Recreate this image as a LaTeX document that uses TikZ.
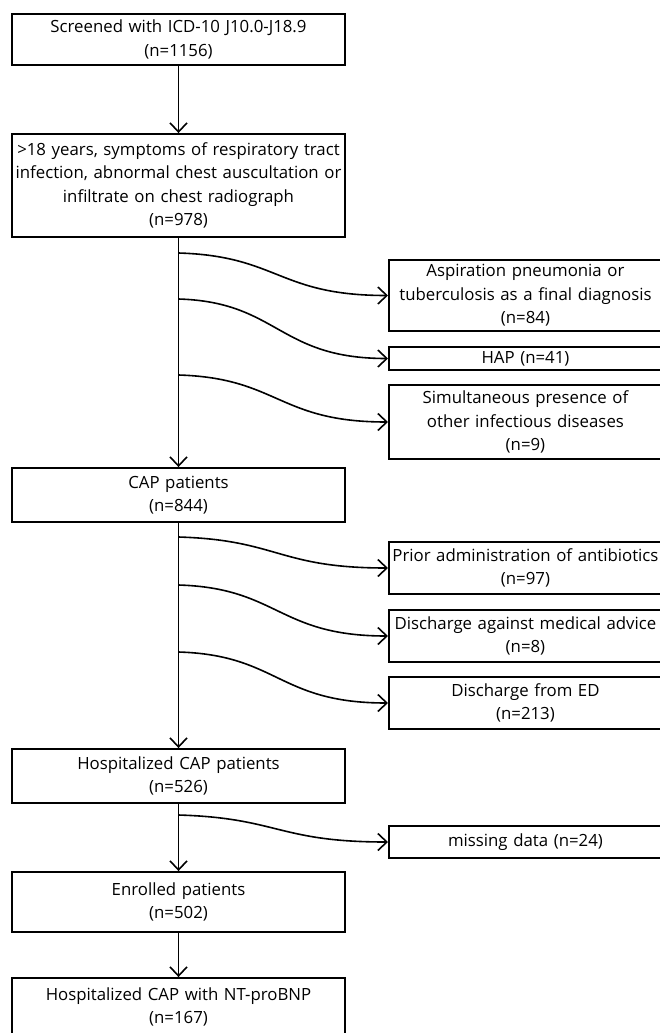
\documentclass[tikz,border=0pt]{standalone}
\usepackage{fontspec}
\setmainfont{Open Sans}
\usetikzlibrary{arrows.meta}

\tikzset{
  box/.style={draw, line width=1.9pt, inner sep=0pt, align=center, text width=#1, minimum width=#1},
  lbox/.style={box=333pt},
  rbox/.style={box=273pt, anchor=west},
  arr/.style={line width=1.6pt, -{Straight Barb[length=9pt,width=17pt,line width=1.6pt]}},
}

\begin{document}
\begin{tikzpicture}[x=1pt,y=-1pt, font=\fontsize{16.8}{23.5}\selectfont]
      \useasboundingbox (0,0) rectangle (660,1033);

      \node[lbox, minimum height=51pt] (scr) at (178.5,39.5) {Screened with ICD-10 J10.0-J18.9\\(n=1156)};
      \node[lbox, minimum height=103pt] (crit) at (178.5,185.5) {\mbox{>18 years, symptoms of respiratory tract}\\\mbox{infection, abnormal chest auscultation or}\\infiltrate on chest radiograph\\(n=978)};
      \node[lbox, minimum height=54pt] (cap) at (178.5,495) {CAP patients\\(n=844)};
      \node[lbox, minimum height=54pt] (hosp) at (178.5,776) {Hospitalized CAP patients\\(n=526)};
      \node[lbox, minimum height=60pt] (enr) at (178.5,902) {Enrolled patients\\(n=502)};
      \node[lbox, minimum height=58pt] (nt) at (178.5,1007) {Hospitalized CAP with NT-proBNP\\(n=167)};

      \node[rbox, minimum height=71pt] (asp) at (388,295.5) {Aspiration pneumonia or\\tuberculosis as a final diagnosis\\(n=84)};
      \node[rbox, minimum height=23pt] (hap) at (388,358.5) {HAP (n=41)};
      \node[rbox, minimum height=74pt] (sim) at (388,422) {Simultaneous presence of\\other infectious diseases\\(n=9)};
      \node[rbox, minimum height=52pt] (prior) at (388,568) {\mbox{Prior administration of antibiotics}\\(n=97)};
      \node[rbox, minimum height=52pt] (ama) at (388,636) {\mbox{Discharge against medical advice}\\(n=8)};
      \node[rbox, minimum height=52pt] (ed) at (388,703) {Discharge from ED\\(n=213)};
      \node[rbox, minimum height=32pt] (miss) at (388,842) {missing data (n=24)};

      \draw[arr] (scr) -- (crit);
      \draw[arr] (crit) -- (cap);
      \draw[arr] (cap) -- (hosp);
      \draw[arr] (hosp) -- (enr);
      \draw[arr] (enr) -- (nt);

      % exclusions branch off the main line
      \foreach \y/\t in {253/asp,299/hap,375/sim,537/prior,585/ama,652/ed,815/miss} {
        \coordinate (from-\t) at (178.5,\y);
        \draw[arr] (from-\t) .. controls +(100,3) and +(-110,0) .. (\t.west);
      }
\end{tikzpicture}
\end{document}
